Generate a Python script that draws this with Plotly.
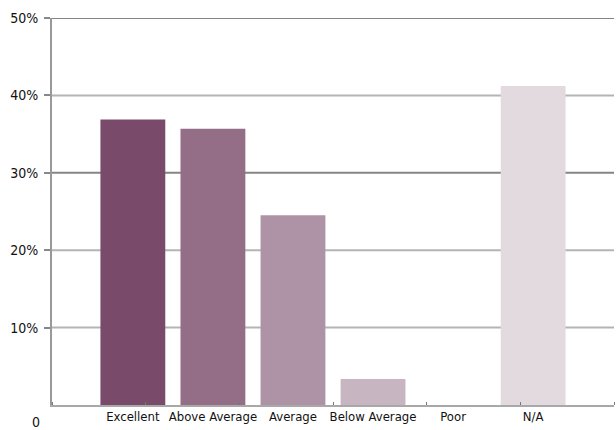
import plotly.graph_objects as go

categories = ["Excellent", "Above Average", "Average", "Below Average", "Poor", "N/A"]
values = [36.9, 35.7, 24.5, 3.35, 0.0, 41.2]
bar_colors = ["#7a4a6a", "#946d87", "#ae93a7", "#c8b5c2", "#d9ccd5", "#e3dae0"]
y_ticks = [10, 20, 30, 40, 50]
y_tick_labels = ["10%", "20%", "30%", "40%", "50%"]
grid_colors = ["#b4b4b4", "#b4b4b4", "#858585", "#b4b4b4", "#858585"]

FONT = "Liberation Sans Narrow, DejaVu Sans Condensed, Arial Narrow, sans-serif"
TXT = "#111111"

fig = go.Figure()
fig.add_trace(go.Bar(
    x=list(range(len(categories))),
    y=values,
    marker=dict(color=bar_colors, line=dict(width=0)),
    width=0.81,
    hoverinfo="skip",
))

shapes = []
for v, c in zip(y_ticks, grid_colors):
    shapes.append(dict(type="line", xref="paper", yref="y", x0=0, x1=1, y0=v, y1=v,
                       line=dict(color=c, width=2), layer="below"))

fig.update_layout(
    width=616, height=430,
    margin=dict(l=52, r=2, t=18, b=25),
    paper_bgcolor="white", plot_bgcolor="white",
    showlegend=False,
    font=dict(family=FONT, size=13, color=TXT),
    shapes=shapes,
    xaxis=dict(
        range=[-1.01, 6.01],
        tickmode="array",
        tickvals=list(range(len(categories))),
        ticktext=categories,
        ticks="", showgrid=False, zeroline=False,
        showline=True, linecolor="#a8a8a8", linewidth=2,
        tickfont=dict(family=FONT, size=13, color=TXT),
        ticklabelstandoff=-2,
        minor=dict(ticks="inside", ticklen=3, tickcolor="#777777", tickwidth=1,
                   tick0=-1.01, dtick=7.02 / 6, showgrid=False),
        fixedrange=True,
    ),
    yaxis=dict(
        range=[0, 50],
        tickmode="array",
        tickvals=y_ticks,
        ticktext=y_tick_labels,
        ticks="outside", ticklen=6, tickcolor="#888888", tickwidth=2,
        showgrid=False, zeroline=False,
        showline=True, linecolor="#999999", linewidth=2,
        tickfont=dict(family=FONT, size=14, color=TXT),
        ticklabelstandoff=3,
        fixedrange=True,
    ),
    annotations=[dict(text="0", xref="paper", yref="y", x=-0.018, y=0,
                      xanchor="right", yanchor="middle", yshift=-17, showarrow=False,
                      font=dict(family=FONT, size=14, color=TXT))],
)

fig.write_html("out.html")
